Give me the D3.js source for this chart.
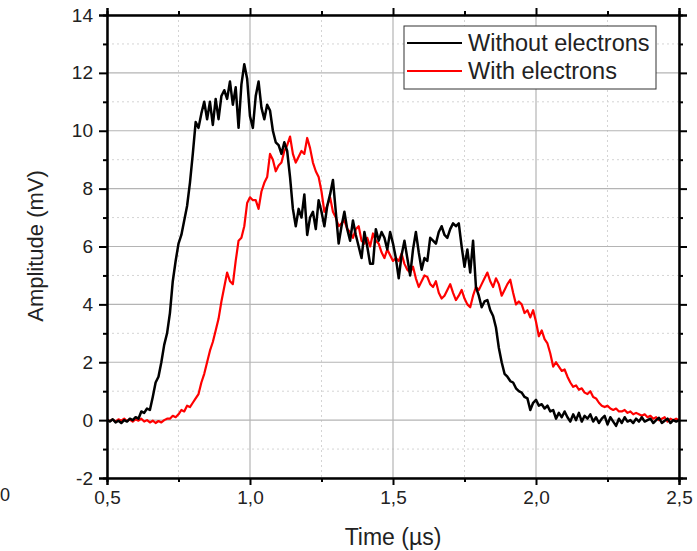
<!DOCTYPE html>
<html>
<head>
<meta charset="utf-8">
<script src="https://cdn.jsdelivr.net/npm/d3@7"></script>
<style>
  html, body { margin: 0; padding: 0; background: #fff; }
  svg { display: block; font-family: "Liberation Sans", Arial, sans-serif; }
</style>
</head>
<body>
<svg id="chart" width="697" height="551"></svg>
<script>
// ---- data ----
const timeStart = 0.5;     // µs, first sample
const timeStep = 0.01;     // µs, sample spacing
const withoutElectrons = [
  0.02,-0.05,0.03,-0.08,-0.02,-0.1,0.0,-0.05,0.05,0.0,
  0.1,0.05,0.3,0.25,0.4,0.35,0.8,1.3,1.5,2.0,
  2.6,3.0,3.7,4.8,5.5,6.1,6.4,6.9,7.4,8.2,
  9.2,10.3,10.1,10.6,11.0,10.4,11.0,10.2,11.1,10.4,
  11.2,11.4,11.1,11.7,10.9,11.5,10.1,11.6,12.3,11.8,
  10.5,10.1,11.2,11.7,10.8,10.4,10.9,10.7,10.0,9.6,
  9.5,9.2,9.6,9.3,8.4,7.3,6.7,7.3,7.0,7.8,
  6.4,7.0,7.2,6.6,7.6,7.2,6.7,7.4,7.8,8.3,
  7.2,6.1,6.7,7.2,6.6,6.2,6.9,6.4,6.0,5.6,
  6.5,6.0,5.4,5.4,6.6,6.2,6.5,6.3,5.9,6.5,
  6.1,5.6,4.9,5.7,6.2,5.6,5.0,5.9,6.5,5.8,
  5.2,5.6,5.5,6.3,6.2,6.1,6.5,6.7,6.4,6.3,
  6.6,6.8,6.7,6.8,6.0,5.3,5.9,5.1,6.2,4.6,
  4.3,3.9,4.1,4.15,3.8,3.6,3.2,2.5,2.0,1.6,
  1.5,1.35,1.3,1.1,1.0,0.95,0.8,0.75,0.35,0.6,
  0.7,0.5,0.55,0.4,0.5,0.3,0.35,0.05,0.25,0.1,
  0.3,0.1,-0.05,0.2,0.0,0.25,-0.05,0.15,0.05,0.2,
  -0.05,0.1,-0.1,0.05,0.15,-0.15,0.1,-0.05,-0.2,0.05,
  -0.1,0.1,-0.05,0.0,-0.1,0.05,-0.05,0.1,-0.05,0.0,
  0.05,-0.1,0.0,0.08,-0.1,-0.02,0.05,-0.1,0.0,-0.05,
  0.0
];
const withElectrons = [
  0.0,-0.03,0.02,-0.05,0.03,-0.02,0.05,-0.03,0.02,-0.05,
  0.03,-0.02,0.05,-0.05,0.0,-0.08,-0.02,-0.1,-0.03,-0.08,
  0.0,0.05,0.05,0.15,0.1,0.2,0.35,0.3,0.5,0.45,
  0.6,0.75,0.9,1.3,1.6,2.0,2.4,2.7,3.1,3.5,
  4.1,4.6,5.1,4.8,4.7,5.5,6.2,6.3,6.7,7.5,
  7.7,7.6,7.6,7.3,7.9,8.2,8.4,9.2,9.0,8.6,
  8.8,8.9,9.3,9.5,9.8,9.2,8.9,9.1,9.3,9.2,
  9.75,9.4,8.9,8.6,8.4,7.9,7.2,7.4,7.7,7.2,
  7.0,6.7,6.8,6.9,6.6,6.5,6.3,6.6,6.7,6.2,
  6.1,6.3,6.0,6.45,6.2,6.1,5.8,5.6,5.9,5.7,
  5.5,5.6,5.5,5.75,5.4,5.2,5.1,5.3,4.9,4.6,
  4.8,5.0,4.95,4.7,4.6,4.8,4.4,4.2,4.3,4.5,
  4.7,4.4,4.15,4.3,4.5,4.2,4.0,3.9,4.3,4.6,
  4.5,4.7,4.9,5.1,4.8,4.6,4.9,4.7,4.3,4.5,
  4.7,4.85,4.4,4.0,4.1,4.0,3.7,3.8,3.55,3.8,
  3.4,2.9,3.1,2.8,2.65,2.3,1.85,2.0,1.85,1.7,
  1.75,1.5,1.3,1.15,1.2,1.05,1.1,0.95,0.9,1.0,
  0.8,0.75,0.6,0.5,0.45,0.5,0.4,0.35,0.4,0.3,
  0.3,0.35,0.25,0.3,0.2,0.25,0.2,0.15,0.2,0.1,
  0.15,0.05,0.1,0.0,0.05,0.1,-0.05,0.05,0.0,0.05,
  0.0
];
const seriesNames = ["Without electrons", "With electrons"];
const seriesColors = ["#000000", "#ff0000"];
const xTickValues = [0.5, 1.0, 1.5, 2.0, 2.5];
const xTickLabels = ["0,5", "1,0", "1,5", "2,0", "2,5"];
const xMinorTicks = [0.75, 1.25, 1.75, 2.25];
const yTickValues = [-2, 0, 2, 4, 6, 8, 10, 12, 14];
const yMinorTicks = [-1, 1, 3, 5, 7, 9, 11, 13];
const xTitle = "Time (µs)";
const yTitle = "Amplitude (mV)";

// ---- layout ----
const svg = d3.select("#chart");
const L = 107, R = 679, T = 15, B = 478;
const x = d3.scaleLinear().domain([0.5, 2.5]).range([L, R]);
const y = d3.scaleLinear().domain([-2, 14]).range([B, T]);

// gridlines
const grid = svg.append("g");
grid.selectAll(".gxm").data(xMinorTicks).join("line")
  .attr("x1", d => x(d)).attr("x2", d => x(d)).attr("y1", T).attr("y2", B)
  .attr("stroke", "#d4d4d4").attr("stroke-width", 1).attr("stroke-dasharray", "2,3");
grid.selectAll(".gym").data(yMinorTicks).join("line")
  .attr("y1", d => y(d)).attr("y2", d => y(d)).attr("x1", L).attr("x2", R)
  .attr("stroke", "#d4d4d4").attr("stroke-width", 1).attr("stroke-dasharray", "2,3");
grid.selectAll(".gx").data(xTickValues).join("line")
  .attr("x1", d => x(d)).attr("x2", d => x(d)).attr("y1", T).attr("y2", B)
  .attr("stroke", "#b4b4b4").attr("stroke-width", 1.2);
grid.selectAll(".gy").data(yTickValues).join("line")
  .attr("y1", d => y(d)).attr("y2", d => y(d)).attr("x1", L).attr("x2", R)
  .attr("stroke", "#b4b4b4").attr("stroke-width", 1.2);

// series
const series = [withoutElectrons, withElectrons];
const line = d3.line()
  .x((d, i) => x(timeStart + i * timeStep))
  .y(d => y(d));
const plot = svg.append("g");
[1, 0].forEach(k => {
  plot.append("path").datum(series[k])
    .attr("fill", "none").attr("stroke", seriesColors[k])
    .attr("stroke-width", k === 0 ? 2.5 : 2.2).attr("stroke-linejoin", "round")
    .attr("d", line);
});

// axes
function styleAxis(g) {
  g.select(".domain").attr("stroke", "#000").attr("stroke-width", 2);
  g.selectAll(".tick line").attr("stroke", "#000").attr("stroke-width", 2);
  g.selectAll(".tick text").attr("font-size", 19).attr("fill", "#222")
    .attr("font-family", "Liberation Sans, Arial, sans-serif");
}
const xAxis = svg.append("g").attr("transform", `translate(0,${B})`)
  .call(d3.axisBottom(x).tickValues(xTickValues).tickSize(7).tickPadding(6)
    .tickFormat((d, i) => xTickLabels[i]));
styleAxis(xAxis);
const xAxisMinor = svg.append("g").attr("transform", `translate(0,${B})`)
  .call(d3.axisBottom(x).tickValues(xMinorTicks).tickSize(4).tickFormat(""));
styleAxis(xAxisMinor);
const xTop = svg.append("g").attr("transform", `translate(0,${T})`)
  .call(d3.axisTop(x).tickValues(xTickValues).tickSize(7).tickFormat(""));
styleAxis(xTop);
const xTopMinor = svg.append("g").attr("transform", `translate(0,${T})`)
  .call(d3.axisTop(x).tickValues(xMinorTicks).tickSize(4).tickFormat(""));
styleAxis(xTopMinor);

const yAxis = svg.append("g").attr("transform", `translate(${L},0)`)
  .call(d3.axisLeft(y).tickValues(yTickValues).tickSize(8).tickPadding(6)
    .tickFormat(d => d3.format("d")(d).replace("−", "-")));
styleAxis(yAxis);
const yAxisMinor = svg.append("g").attr("transform", `translate(${L},0)`)
  .call(d3.axisLeft(y).tickValues(yMinorTicks).tickSize(4).tickFormat(""));
styleAxis(yAxisMinor);
const yRight = svg.append("g").attr("transform", `translate(${R},0)`)
  .call(d3.axisRight(y).tickValues(yTickValues).tickSize(8).tickFormat(""));
styleAxis(yRight);
const yRightMinor = svg.append("g").attr("transform", `translate(${R},0)`)
  .call(d3.axisRight(y).tickValues(yMinorTicks).tickSize(4).tickFormat(""));
styleAxis(yRightMinor);

// titles
svg.append("text").attr("x", 393).attr("y", 545)
  .attr("text-anchor", "middle").attr("font-size", 23).attr("fill", "#222").text(xTitle);
svg.append("text").attr("transform", `translate(43,246) rotate(-90)`)
  .attr("text-anchor", "middle").attr("font-size", 22).attr("fill", "#222").text(yTitle);

// stray fragment at left edge
svg.append("text").attr("x", 0).attr("y", 501).attr("font-size", 18).attr("fill", "#222").text("0");

// legend
const lg = svg.append("g");
lg.append("rect").attr("x", 404).attr("y", 26).attr("width", 252).attr("height", 63)
  .attr("fill", "#fff").attr("stroke", "#333").attr("stroke-width", 1);
seriesNames.forEach((name, i) => {
  const yy = 43 + i * 28;
  lg.append("line").attr("x1", 407).attr("x2", 462).attr("y1", yy).attr("y2", yy)
    .attr("stroke", seriesColors[i]).attr("stroke-width", 2);
  lg.append("text").attr("x", 468).attr("y", yy + 8).attr("font-size", 23.5)
    .attr("fill", "#222").text(name);
});
</script>
</body>
</html>
